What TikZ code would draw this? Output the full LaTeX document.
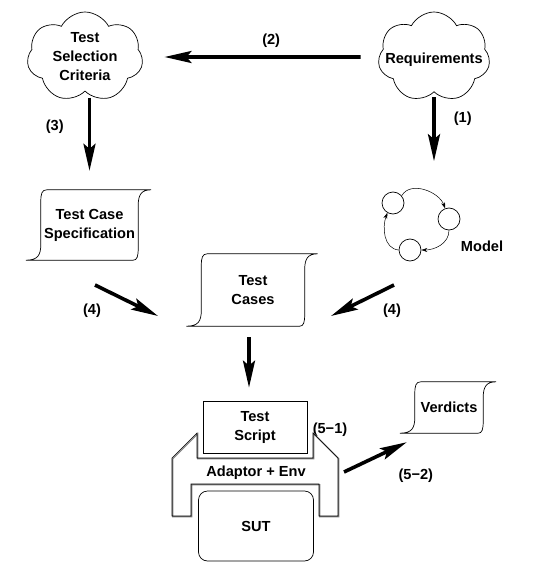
\documentclass[tikz,border=0pt]{standalone}
\usepackage{fontspec}
\setmainfont{Liberation Sans}
\usetikzlibrary{shapes.symbols, arrows.meta, positioning, quotes}
\tikzstyle{cloudy} = [cloud, cloud puffs=7, cloud puff arc=125, cloud ignores aspect, minimum width=112pt, minimum height=90pt, inner sep=0pt, line width=0.7pt, draw=black]
\tikzstyle{doc} = [rectangle, inner sep=0pt, text centered, align=center]
\tikzstyle{state} = [circle, minimum size=22pt, inner sep=0pt, line width=0.7pt, draw=black]
\tikzstyle{box} = [rectangle, minimum width=104pt, minimum height=52pt, align=center, line width=0.7pt, draw=black]
\tikzstyle{arrow} = [line width=3.6pt, -{Stealth[length=27pt, width=12pt, inset=5pt]}]
\tikzstyle{thinarrow} = [line width=0.5pt, -{Stealth[length=6pt, width=4pt]}]
\tikzstyle{lab} = [inner sep=0pt]

% wavy-sided sheet drawn round a doc node
\newcommand{\docoutline}[1]{%
  \draw[line width=0.7pt] ([xshift=-15pt]#1.south west) .. controls ([xshift=-3pt]#1.south west) and ([yshift=5pt]#1.south west) .. ([yshift=16pt]#1.south west)
    -- ([yshift=-12pt]#1.north west) .. controls ([yshift=-4pt]#1.north west) and ([xshift=1pt]#1.north west) .. ([xshift=6pt]#1.north west)
    -- ([xshift=13pt]#1.north east) .. controls ([xshift=3pt]#1.north east) and ([yshift=-5pt]#1.north east) .. ([yshift=-16pt]#1.north east)
    -- ([yshift=12pt]#1.south east) .. controls ([yshift=4pt]#1.south east) and ([xshift=-1pt]#1.south east) .. ([xshift=-5pt]#1.south east)
    -- cycle;}

\begin{document}
\begin{tikzpicture}[x=1pt, y=-1pt, node distance=168pt, font=\bfseries\fontsize{14.6}{19}\selectfont]
\useasboundingbox (0,0) rectangle (538,583);

\node (crit) [cloudy, minimum width=116pt, label={[align=center]center:Test\\Selection\\Criteria}] at (85,57) {};
\node (req) [cloudy, right of=crit, xshift=181pt, label={[yshift=-3pt]center:Requirements}] {};
\node (spec) [doc, minimum width=97pt, minimum height=70pt, below of=crit, xshift=4.5pt] {Test Case\\Specification};
\node (cases) [doc, minimum width=103pt, minimum height=72pt, right of=spec, xshift=-4.5pt, yshift=-65pt] {Test\\Cases};
\node (m1) [state, below of=req, xshift=-41pt, yshift=22pt] {};
\node (m2) [state, right of=m1, node distance=56pt, yshift=-16pt] {};
\node (m3) [state, below of=m1, node distance=47pt, xshift=17pt] {};
\node (model) [right of=m2, node distance=33pt, yshift=-27pt] {Model};
\node (script) [box, below of=cases, node distance=137pt, xshift=2pt] {Test\\Script};
\node (adapt) [below of=script, node distance=46pt, xshift=1pt] {Adaptor + Env};
\node (sut) [rectangle, rounded corners=9pt, minimum width=115pt, minimum height=70pt, line width=0.7pt, draw=black, below of=adapt, node distance=53pt] {SUT};
\node (verd) [doc, minimum width=68pt, minimum height=51pt, right of=script, node distance=194pt, yshift=19.5pt] {Verdicts};
\node (lab51) [right of=script, node distance=75pt, yshift=-3pt] {(5−1)};

\docoutline{spec}
\docoutline{cases}
\docoutline{verd}

% adaptor frame
\draw[gray, line width=1.2pt, shift={(adapt)}, xshift=0.8pt, yshift=-0.8pt] (-59,-40) -- (-59,-15) -- (57,-15) -- (57,-40) -- (82,-15) -- (82,43) -- (63,43) -- (63,11) -- (-65,11) -- (-65,43) -- (-84,43) -- (-84,-15) -- cycle;
\draw[line width=0.6pt, shift={(adapt)}] (-59,-40) -- (-59,-15) -- (57,-15) -- (57,-40) -- (82,-15) -- (82,43) -- (63,43) -- (63,11) -- (-65,11) -- (-65,43) -- (-84,43) -- (-84,-15) -- cycle;

\coordinate (modeltop) at ([yshift=-69pt]req.south);
\coordinate (specout) at ([xshift=5.5pt, yshift=-60pt]spec.center);
\coordinate (casesinl) at ([xshift=-95pt, yshift=-26pt]cases.center);
\coordinate (modelout) at ([xshift=-16pt, yshift=-35pt]m3.center);
\coordinate (casesinr) at ([xshift=78pt, yshift=-26pt]cases.center);
\coordinate (casesout) at ([xshift=-4pt]cases.south);
\coordinate (adaptout) at ([xshift=88pt, yshift=1pt]adapt.center);
\coordinate (verdin) at ([xshift=-8pt, yshift=-9pt]verd.south west);

\draw [arrow, shorten <=18pt, shorten >=22pt] (req.west) -- node[lab, above=8pt, pos=0.455] {(2)} (crit.east);
\draw [arrow, shorten <=6pt, shorten >=19pt] (spec.north |- crit.south) -- node[lab, left=24pt, pos=0.36] {(3)} (spec.north);
\draw [arrow, shorten <=5pt] (req.south) -- node[lab, right=18pt, pos=0.39] {(1)} (modeltop);
\draw [arrow] (specout) -- node[lab, at start, below=17pt, xshift=-3pt] {(4)} (casesinl);
\draw [arrow] (modelout) -- node[lab, at start, below=17pt, xshift=-2pt] {(4)} (casesinr);
\draw [arrow, shorten <=11pt, shorten >=13pt] (casesout) -- (casesout |- script.north);
\draw [arrow] (adaptout) -- node[lab, at end, below=25pt, xshift=9pt] {(5−2)} (verdin);

\draw [thinarrow] (m1.40) to[out=60, in=110] (m2.110);
\draw [thinarrow] (m2.south) to[out=-90, in=0] (m3.east);
\draw [thinarrow] (m3.west) to[out=175, in=-110] (m1.240);

\end{tikzpicture}
\end{document}
